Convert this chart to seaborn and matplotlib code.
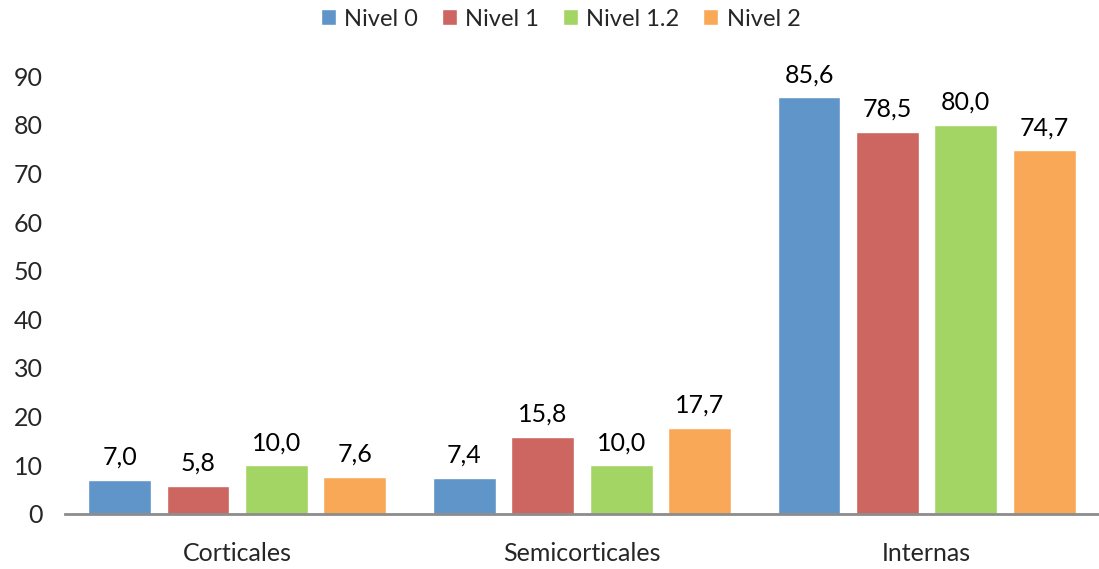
import matplotlib
matplotlib.use("Agg")
import matplotlib.pyplot as plt
import seaborn as sns
import pandas as pd

categorias = ["Corticales", "Semicorticales", "Internas"]
niveles = ["Nivel 0", "Nivel 1", "Nivel 1.2", "Nivel 2"]
nivel_0 = [7.0, 7.4, 85.6]
nivel_1 = [5.8, 15.8, 78.5]
nivel_1_2 = [10.0, 10.0, 80.0]
nivel_2 = [7.6, 17.7, 74.7]
y_ticks = [0, 10, 20, 30, 40, 50, 60, 70, 80, 90]

colores = ["#6095C9", "#CD6660", "#A2D564", "#F9A857"]

series = [nivel_0, nivel_1, nivel_1_2, nivel_2]
df = pd.DataFrame(
    [(c, n, v) for n, vals in zip(niveles, series) for c, v in zip(categorias, vals)],
    columns=["categoria", "nivel", "valor"],
)

sns.set_theme(style="white")
plt.rcParams["font.family"] = ["Lato", "DejaVu Sans"]

fig = plt.figure(figsize=(10.99, 5.69), dpi=100)
ax = fig.add_axes([0.059, 0.0967, 0.941, 0.7697])

sns.barplot(
    data=df, x="categoria", y="valor", hue="nivel",
    order=categorias, hue_order=niveles, palette=colores,
    width=0.91, gap=0.2, saturation=1, ax=ax, errorbar=None,
)

for cont in ax.containers:
    vals = cont.datavalues
    ax.bar_label(cont, labels=[f"{v:.1f}".replace(".", ",") for v in vals],
                 padding=8, fontsize=18, color="#000000")

ax.set_ylim(0, 90)
ax.set_xlim(-0.5, 2.5)
ax.set_yticks(y_ticks)
ax.set_yticklabels([str(t) for t in y_ticks], fontsize=18)
ax.tick_params(axis="y", length=0, pad=16)
ax.tick_params(axis="x", length=0, pad=20, labelsize=18)
ax.set_xlabel("")
ax.set_ylabel("")
for s in ["top", "right", "left"]:
    ax.spines[s].set_visible(False)
ax.spines["bottom"].set_color("#8C8C8C")
ax.spines["bottom"].set_linewidth(2)
ax.grid(False)

handles, labels = ax.get_legend_handles_labels()
ax.get_legend().remove()
fig.legend(
    handles, labels, loc="center", bbox_to_anchor=(0.51, 1 - 19 / 569), ncol=4,
    frameon=False, fontsize=17, handlelength=0.65, handleheight=0.65,
    handletextpad=0.35, columnspacing=1.0,
)

fig.savefig("out.png", dpi=100)
